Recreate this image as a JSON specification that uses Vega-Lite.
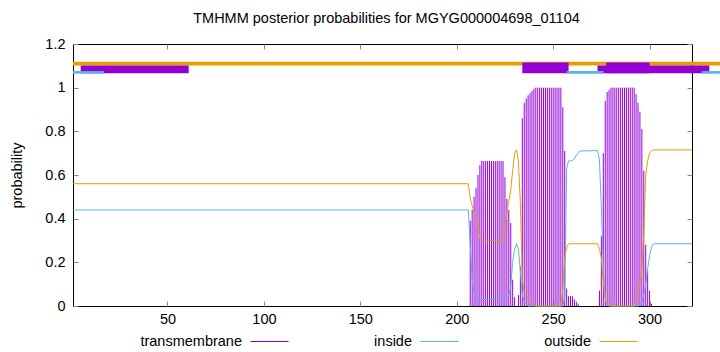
{
  "$schema": "https://vega.github.io/schema/vega-lite/v6.json",
  "width": 619,
  "height": 262,
  "autosize": {"type": "none"},
  "padding": {"left": 73, "top": 44, "right": 28, "bottom": 46},
  "background": "white",
  "title": {"text": "TMHMM posterior probabilities for MGYG000004698_01104", "font": "Liberation Sans", "fontSize": 14.5, "fontWeight": "normal", "color": "black", "anchor": "middle", "offset": 10, "dx": 4},
  "config": {
    "view": {"stroke": "black", "strokeWidth": 1},
    "font": "Liberation Sans",
    "axis": {"grid": false, "domain": false, "tickColor": "#888888", "tickSize": -5, "labelFont": "Liberation Sans", "labelFontSize": 14.5, "labelColor": "black", "titleFont": "Liberation Sans", "titleFontSize": 14.5, "titleFontWeight": "normal", "titleColor": "black"}
  },
  "datasets": {
    "post": [
      {"pos": 1, "tm": 0, "inside": 0.44, "outside": 0.56},
      {"pos": 206, "tm": 0, "inside": 0.44, "outside": 0.56},
      {"pos": 207, "tm": 0.39, "inside": 0.28, "outside": 0.49},
      {"pos": 208, "tm": 0.44, "inside": 0.12, "outside": 0.46},
      {"pos": 209, "tm": 0.50, "inside": 0.06, "outside": 0.43},
      {"pos": 210, "tm": 0.54, "inside": 0.04, "outside": 0.41},
      {"pos": 211, "tm": 0.60, "inside": 0.03, "outside": 0.38},
      {"pos": 212, "tm": 0.645, "inside": 0.03, "outside": 0.31},
      {"pos": 213, "tm": 0.664, "inside": 0.03, "outside": 0.305},
      {"pos": 214, "tm": 0.664, "inside": 0.03, "outside": 0.30},
      {"pos": 215, "tm": 0.664, "inside": 0.03, "outside": 0.30},
      {"pos": 216, "tm": 0.664, "inside": 0.03, "outside": 0.30},
      {"pos": 217, "tm": 0.664, "inside": 0.03, "outside": 0.30},
      {"pos": 218, "tm": 0.664, "inside": 0.03, "outside": 0.30},
      {"pos": 219, "tm": 0.664, "inside": 0.03, "outside": 0.30},
      {"pos": 220, "tm": 0.664, "inside": 0.03, "outside": 0.30},
      {"pos": 221, "tm": 0.664, "inside": 0.03, "outside": 0.30},
      {"pos": 222, "tm": 0.664, "inside": 0.03, "outside": 0.30},
      {"pos": 223, "tm": 0.664, "inside": 0.03, "outside": 0.30},
      {"pos": 224, "tm": 0.664, "inside": 0.03, "outside": 0.30},
      {"pos": 225, "tm": 0.59, "inside": 0.03, "outside": 0.37},
      {"pos": 226, "tm": 0.49, "inside": 0.04, "outside": 0.43},
      {"pos": 227, "tm": 0.44, "inside": 0.05, "outside": 0.48},
      {"pos": 228, "tm": 0.38, "inside": 0.09, "outside": 0.53},
      {"pos": 229, "tm": 0.12, "inside": 0.20, "outside": 0.62},
      {"pos": 230, "tm": 0.04, "inside": 0.26, "outside": 0.70},
      {"pos": 231, "tm": 0.0, "inside": 0.285, "outside": 0.715},
      {"pos": 232, "tm": 0.05, "inside": 0.26, "outside": 0.66},
      {"pos": 233, "tm": 0.18, "inside": 0.16, "outside": 0.47},
      {"pos": 234, "tm": 0.86, "inside": 0.05, "outside": 0.12},
      {"pos": 235, "tm": 0.93, "inside": 0.02, "outside": 0.06},
      {"pos": 236, "tm": 0.95, "inside": 0.01, "outside": 0.05},
      {"pos": 237, "tm": 0.965, "inside": 0, "outside": 0.035},
      {"pos": 238, "tm": 0.975, "inside": 0, "outside": 0.02},
      {"pos": 239, "tm": 0.985, "inside": 0, "outside": 0.012},
      {"pos": 240, "tm": 0.995, "inside": 0, "outside": 0.004},
      {"pos": 241, "tm": 1, "inside": 0, "outside": 0},
      {"pos": 242, "tm": 1, "inside": 0, "outside": 0},
      {"pos": 243, "tm": 1, "inside": 0, "outside": 0},
      {"pos": 244, "tm": 1, "inside": 0, "outside": 0},
      {"pos": 245, "tm": 1, "inside": 0, "outside": 0},
      {"pos": 246, "tm": 1, "inside": 0, "outside": 0},
      {"pos": 247, "tm": 1, "inside": 0, "outside": 0},
      {"pos": 248, "tm": 1, "inside": 0, "outside": 0},
      {"pos": 249, "tm": 1, "inside": 0, "outside": 0},
      {"pos": 250, "tm": 1, "inside": 0, "outside": 0},
      {"pos": 251, "tm": 1, "inside": 0, "outside": 0},
      {"pos": 252, "tm": 1, "inside": 0, "outside": 0},
      {"pos": 253, "tm": 1, "inside": 0, "outside": 0},
      {"pos": 254, "tm": 1, "inside": 0, "outside": 0},
      {"pos": 255, "tm": 0.91, "inside": 0, "outside": 0.08},
      {"pos": 256, "tm": 0.71, "inside": 0.04, "outside": 0.22},
      {"pos": 257, "tm": 0.08, "inside": 0.63, "outside": 0.27},
      {"pos": 258, "tm": 0.045, "inside": 0.665, "outside": 0.285},
      {"pos": 259, "tm": 0.045, "inside": 0.665, "outside": 0.285},
      {"pos": 260, "tm": 0.045, "inside": 0.665, "outside": 0.285},
      {"pos": 261, "tm": 0.03, "inside": 0.675, "outside": 0.285},
      {"pos": 262, "tm": 0.02, "inside": 0.69, "outside": 0.285},
      {"pos": 263, "tm": 0.01, "inside": 0.70, "outside": 0.285},
      {"pos": 264, "tm": 0, "inside": 0.71, "outside": 0.285},
      {"pos": 273, "tm": 0, "inside": 0.712, "outside": 0.285},
      {"pos": 274, "tm": 0.07, "inside": 0.67, "outside": 0.26},
      {"pos": 275, "tm": 0.32, "inside": 0.45, "outside": 0.22},
      {"pos": 276, "tm": 0.70, "inside": 0.18, "outside": 0.11},
      {"pos": 277, "tm": 0.94, "inside": 0.03, "outside": 0.03},
      {"pos": 278, "tm": 0.98, "inside": 0.005, "outside": 0.015},
      {"pos": 279, "tm": 0.99, "inside": 0, "outside": 0.01},
      {"pos": 280, "tm": 1, "inside": 0, "outside": 0},
      {"pos": 281, "tm": 1, "inside": 0, "outside": 0},
      {"pos": 282, "tm": 1, "inside": 0, "outside": 0},
      {"pos": 283, "tm": 1, "inside": 0, "outside": 0},
      {"pos": 284, "tm": 1, "inside": 0, "outside": 0},
      {"pos": 285, "tm": 1, "inside": 0, "outside": 0},
      {"pos": 286, "tm": 1, "inside": 0, "outside": 0},
      {"pos": 287, "tm": 1, "inside": 0, "outside": 0},
      {"pos": 288, "tm": 1, "inside": 0, "outside": 0},
      {"pos": 289, "tm": 1, "inside": 0, "outside": 0},
      {"pos": 290, "tm": 1, "inside": 0, "outside": 0},
      {"pos": 291, "tm": 1, "inside": 0, "outside": 0},
      {"pos": 292, "tm": 1, "inside": 0, "outside": 0},
      {"pos": 293, "tm": 0.97, "inside": 0, "outside": 0.03},
      {"pos": 294, "tm": 0.93, "inside": 0, "outside": 0.07},
      {"pos": 295, "tm": 0.89, "inside": 0.005, "outside": 0.10},
      {"pos": 296, "tm": 0.81, "inside": 0.02, "outside": 0.17},
      {"pos": 297, "tm": 0.62, "inside": 0.05, "outside": 0.33},
      {"pos": 298, "tm": 0.28, "inside": 0.10, "outside": 0.60},
      {"pos": 299, "tm": 0.165, "inside": 0.17, "outside": 0.665},
      {"pos": 300, "tm": 0.07, "inside": 0.23, "outside": 0.70},
      {"pos": 301, "tm": 0.01, "inside": 0.27, "outside": 0.71},
      {"pos": 302, "tm": 0, "inside": 0.285, "outside": 0.715},
      {"pos": 322, "tm": 0, "inside": 0.285, "outside": 0.715}
    ],
    "topology": [
      {"feature": "outside", "start": 1, "end": 340},
      {"feature": "TM", "start": 5, "end": 61},
      {"feature": "TM", "start": 273, "end": 331},
      {"feature": "TM peak", "start": 234, "end": 258},
      {"feature": "TM peak", "start": 277.5, "end": 300},
      {"feature": "inside", "start": 1, "end": 17},
      {"feature": "inside", "start": 257, "end": 276},
      {"feature": "inside", "start": 327, "end": 340}
    ]
  },
  "resolve": {"axis": {"x": "independent", "y": "independent"}},
  "layer": [
    {
      "data": {"name": "topology"},
      "transform": [{"filter": "datum.feature === 'outside'"}],
      "mark": {"type": "rect", "color": "#e69f00"},
      "encoding": {
        "x": {"field": "start", "type": "quantitative", "scale": {"domain": [1, 322], "nice": false, "zero": false}, "axis": {"orient": "top", "labels": false, "values": [50, 100, 150, 200, 250, 300], "title": null}},
        "x2": {"field": "end"},
        "y": {"datum": 1.101, "type": "quantitative", "scale": {"domain": [0, 1.2], "nice": false}, "axis": {"orient": "right", "labels": false, "values": [0, 0.2, 0.4, 0.6, 0.8, 1, 1.2], "title": null}},
        "y2": {"datum": 1.119}
      }
    },
    {
      "data": {"name": "topology"},
      "transform": [{"filter": "datum.feature === 'TM'"}],
      "mark": {"type": "rect", "color": "#9400d3"},
      "encoding": {
        "x": {"field": "start", "type": "quantitative", "axis": null},
        "x2": {"field": "end"},
        "y": {"datum": 1.066, "type": "quantitative", "axis": null},
        "y2": {"datum": 1.101}
      }
    },
    {
      "data": {"name": "topology"},
      "transform": [{"filter": "datum.feature === 'TM peak'"}],
      "mark": {"type": "rect", "color": "#9400d3"},
      "encoding": {
        "x": {"field": "start", "type": "quantitative", "axis": null},
        "x2": {"field": "end"},
        "y": {"datum": 1.066, "type": "quantitative", "axis": null},
        "y2": {"datum": 1.115}
      }
    },
    {
      "data": {"name": "topology"},
      "transform": [{"filter": "datum.feature === 'inside'"}],
      "mark": {"type": "rect", "color": "#56b4e9"},
      "encoding": {
        "x": {"field": "start", "type": "quantitative", "axis": null},
        "x2": {"field": "end"},
        "y": {"datum": 1.064, "type": "quantitative", "axis": null},
        "y2": {"datum": 1.076}
      }
    },
    {
      "data": {"name": "post"},
      "transform": [{"filter": "datum.tm > 0"}],
      "mark": {"type": "rule", "strokeWidth": 1},
      "encoding": {
        "x": {"field": "pos", "type": "quantitative", "axis": {"orient": "bottom", "values": [50, 100, 150, 200, 250, 300], "title": null, "labelPadding": 11}},
        "y": {"field": "tm", "type": "quantitative", "axis": {"orient": "left", "values": [0, 0.2, 0.4, 0.6, 0.8, 1, 1.2], "format": ".1~f", "labelPadding": 13, "title": "probability", "titleX": -56, "titleY": 131, "titleAngle": 270, "titleAlign": "center", "titleBaseline": "middle"}},
        "y2": {"datum": 0},
        "color": {"datum": "transmembrane", "type": "nominal", "scale": {"domain": ["transmembrane", "inside", "outside"], "range": ["#9400d3", "#56b4e9", "#e69f00"]},
          "legend": {"orient": "none", "legendX": 177, "legendY": 278, "direction": "horizontal", "title": null, "symbolType": "stroke", "symbolSize": 1444, "symbolStrokeWidth": 1, "labelAlign": "right", "labelOffset": -47, "labelFontSize": 14.5, "labelFont": "Liberation Sans", "labelColor": "black", "columnPadding": 83, "gridAlign": "each", "labelLimit": 300}}
      }
    },
    {
      "data": {"name": "post"},
      "mark": {"type": "line", "strokeWidth": 1, "interpolate": "linear"},
      "encoding": {
        "x": {"field": "pos", "type": "quantitative", "axis": null},
        "y": {"field": "inside", "type": "quantitative", "axis": null},
        "color": {"datum": "inside", "type": "nominal"}
      }
    },
    {
      "data": {"name": "post"},
      "mark": {"type": "line", "strokeWidth": 1, "interpolate": "linear"},
      "encoding": {
        "x": {"field": "pos", "type": "quantitative", "axis": null},
        "y": {"field": "outside", "type": "quantitative", "axis": null},
        "color": {"datum": "outside", "type": "nominal"}
      }
    }
  ]
}
